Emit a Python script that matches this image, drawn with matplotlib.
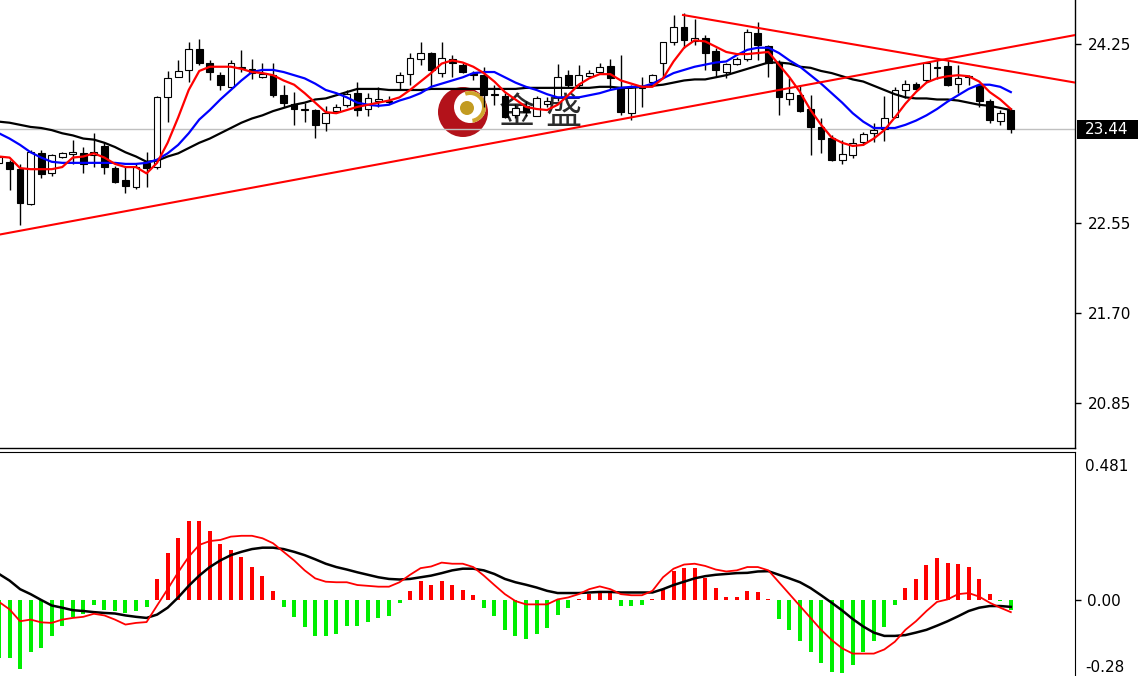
import numpy as np
import matplotlib
matplotlib.use("Agg")
import matplotlib.pyplot as plt
from matplotlib.patches import Rectangle, Circle, Wedge
from matplotlib.transforms import blended_transform_factory

# OHLC, oldest first
opens = [23.12, 23.13, 23.06, 22.73, 23.21, 23.02, 23.18, 23.20, 23.21, 23.19,
         23.28, 23.07, 22.96, 22.89, 23.12, 23.08, 23.74, 23.93, 24.00, 24.20,
         24.07, 23.95, 23.84, 24.02, 24.01, 23.93, 23.95, 23.76, 23.68, 23.62,
         23.62, 23.50, 23.61, 23.67, 23.78, 23.63, 23.71, 23.70, 23.89, 23.96,
         24.10, 24.16, 23.97, 24.10, 24.05, 23.97, 23.95, 23.76, 23.75, 23.57,
         23.66, 23.56, 23.68, 23.74, 23.95, 23.86, 23.94, 23.98, 24.04, 23.84,
         23.59, 23.83, 23.89, 24.07, 24.26, 24.41, 24.27, 24.30, 24.18, 23.98,
         24.06, 24.10, 24.35, 24.23, 24.07, 23.72, 23.76, 23.63, 23.46, 23.36,
         23.15, 23.19, 23.32, 23.40, 23.44, 23.55, 23.81, 23.87, 23.90, 24.02,
         24.04, 23.87, 23.93, 23.86, 23.71, 23.52, 23.62]
highs = [23.19, 23.15, 23.11, 23.24, 23.24, 23.20, 23.22, 23.34, 23.27, 23.40,
         23.32, 23.09, 23.08, 23.11, 23.22, 23.75, 23.99, 24.09, 24.26, 24.29,
         24.09, 23.98, 24.09, 24.19, 24.10, 24.07, 24.07, 23.86, 23.79, 23.69,
         23.63, 23.66, 23.68, 23.81, 23.89, 23.78, 23.84, 23.75, 23.98, 24.16,
         24.26, 24.17, 24.26, 24.14, 24.07, 23.99, 24.03, 23.86, 23.78, 23.68,
         23.71, 23.75, 23.74, 24.06, 24.00, 24.05, 24.00, 24.07, 24.10, 24.14,
         23.86, 23.93, 23.96, 24.26, 24.52, 24.54, 24.48, 24.33, 24.21, 24.07,
         24.12, 24.39, 24.45, 24.24, 24.09, 23.92, 23.86, 23.76, 23.54, 23.38,
         23.34, 23.36, 23.41, 23.50, 23.75, 23.84, 23.90, 23.89, 24.07, 24.09,
         24.09, 24.05, 23.95, 23.87, 23.72, 23.62, 23.64]
lows = [23.10, 22.86, 22.53, 22.72, 22.98, 23.00, 23.17, 23.11, 23.02, 23.08,
        23.01, 22.93, 22.83, 22.87, 22.89, 23.06, 23.51, 23.93, 23.89, 24.05,
        23.90, 23.81, 23.83, 23.98, 23.91, 23.92, 23.74, 23.65, 23.48, 23.51,
        23.36, 23.42, 23.60, 23.65, 23.56, 23.56, 23.65, 23.68, 23.81, 23.86,
        24.05, 23.84, 23.93, 23.93, 23.97, 23.90, 23.65, 23.67, 23.54, 23.54,
        23.56, 23.56, 23.65, 23.71, 23.84, 23.84, 23.92, 23.96, 23.81, 23.57,
        23.53, 23.65, 23.87, 23.92, 24.24, 24.21, 24.24, 24.00, 23.93, 23.92,
        24.05, 24.08, 24.09, 23.93, 23.57, 23.67, 23.60, 23.19, 23.21, 23.14,
        23.11, 23.17, 23.29, 23.32, 23.33, 23.54, 23.73, 23.81, 23.89, 23.91,
        23.85, 23.78, 23.86, 23.65, 23.50, 23.48, 23.40]
closes = [23.18, 23.06, 22.74, 23.22, 23.01, 23.19, 23.21, 23.22, 23.11, 23.22,
          23.08, 22.94, 22.90, 23.08, 23.07, 23.74, 23.92, 23.99, 24.20, 24.07,
          23.98, 23.86, 24.07, 24.03, 23.97, 23.96, 23.76, 23.69, 23.63, 23.63,
          23.48, 23.59, 23.65, 23.77, 23.62, 23.73, 23.72, 23.71, 23.95, 24.11,
          24.16, 24.00, 24.11, 24.07, 23.98, 23.95, 23.76, 23.77, 23.55, 23.64,
          23.60, 23.73, 23.71, 23.93, 23.86, 23.95, 23.97, 24.03, 23.92, 23.60,
          23.84, 23.85, 23.95, 24.26, 24.41, 24.28, 24.30, 24.16, 24.00, 24.06,
          24.10, 24.36, 24.24, 24.07, 23.74, 23.78, 23.61, 23.46, 23.35, 23.15,
          23.20, 23.31, 23.39, 23.43, 23.54, 23.81, 23.87, 23.82, 24.07, 24.03,
          23.86, 23.92, 23.94, 23.71, 23.53, 23.59, 23.44]

# moving averages (red fast, blue medium, black slow)
ma_fast = [23.18, 23.17, 23.07, 23.06, 23.06, 23.06, 23.08, 23.17, 23.18, 23.21,
           23.17, 23.11, 23.08, 23.08, 23.02, 23.12, 23.31, 23.55, 23.81, 23.99,
           24.03, 24.03, 24.03, 24.01, 23.98, 23.97, 23.95, 23.90, 23.86, 23.78,
           23.69, 23.60, 23.59, 23.62, 23.65, 23.67, 23.69, 23.71, 23.74, 23.81,
           23.89, 23.97, 24.06, 24.09, 24.07, 24.03, 23.97, 23.89, 23.79, 23.72,
           23.65, 23.63, 23.62, 23.67, 23.76, 23.86, 23.92, 23.96, 23.96, 23.90,
           23.87, 23.84, 23.84, 23.92, 24.08, 24.21, 24.28, 24.27, 24.22, 24.17,
           24.15, 24.15, 24.16, 24.17, 24.05, 23.93, 23.79, 23.62, 23.48, 23.36,
           23.31, 23.28, 23.29, 23.35, 23.43, 23.55, 23.68, 23.79, 23.88, 23.92,
           23.94, 23.95, 23.94, 23.89, 23.79, 23.72, 23.63]
ma_mid = [23.40, 23.35, 23.29, 23.22, 23.17, 23.13, 23.12, 23.12, 23.12, 23.12,
          23.12, 23.12, 23.11, 23.11, 23.12, 23.15, 23.21, 23.29, 23.40, 23.53,
          23.62, 23.72, 23.81, 23.90, 23.98, 24.00, 24.00, 23.98, 23.95, 23.92,
          23.87, 23.81, 23.78, 23.74, 23.69, 23.67, 23.66, 23.67, 23.71, 23.74,
          23.78, 23.84, 23.87, 23.90, 23.93, 23.97, 23.98, 23.98, 23.93, 23.88,
          23.84, 23.81, 23.77, 23.74, 23.74, 23.74, 23.76, 23.78, 23.81, 23.83,
          23.84, 23.84, 23.87, 23.92, 23.97, 24.00, 24.03, 24.05, 24.07, 24.08,
          24.14, 24.19, 24.21, 24.21, 24.16, 24.09, 24.03, 23.95, 23.87, 23.78,
          23.69, 23.59, 23.51, 23.45, 23.45, 23.45, 23.48, 23.52, 23.57, 23.63,
          23.70, 23.76, 23.82, 23.86, 23.86, 23.84, 23.79]
ma_slow = [23.51, 23.50, 23.48, 23.46, 23.45, 23.43, 23.40, 23.38, 23.35, 23.34,
           23.31, 23.27, 23.22, 23.18, 23.13, 23.14, 23.18, 23.21, 23.26, 23.31,
           23.35, 23.40, 23.45, 23.50, 23.54, 23.57, 23.61, 23.64, 23.67, 23.69,
           23.72, 23.73, 23.76, 23.79, 23.82, 23.82, 23.82, 23.81, 23.81, 23.81,
           23.81, 23.82, 23.82, 23.82, 23.82, 23.82, 23.82, 23.82, 23.82, 23.82,
           23.83, 23.83, 23.83, 23.83, 23.83, 23.83, 23.83, 23.84, 23.84, 23.83,
           23.83, 23.84, 23.85, 23.86, 23.88, 23.90, 23.91, 23.91, 23.93, 23.95,
           23.98, 24.01, 24.04, 24.07, 24.07, 24.06, 24.03, 24.02, 23.99, 23.97,
           23.94, 23.91, 23.89, 23.85, 23.81, 23.77, 23.74, 23.73, 23.73, 23.72,
           23.72, 23.71, 23.69, 23.67, 23.66, 23.64, 23.62]

# hand-drawn trend lines: (bar index, price) end points
trend_up_x = [0.0, 102.1]
trend_up_y = [22.44, 24.33]
trend_down_x = [64.9, 102.1]
trend_down_y = [24.52, 23.88]

# MACD panel
macd_hist = [-0.21, -0.21, -0.25, -0.19, -0.175, -0.13, -0.095, -0.06, -0.05, -0.02,
             -0.035, -0.04, -0.047, -0.04, -0.025, 0.077, 0.17, 0.224, 0.286, 0.286,
             0.25, 0.202, 0.18, 0.155, 0.12, 0.087, 0.031, -0.025, -0.062, -0.097,
             -0.132, -0.132, -0.122, -0.095, -0.095, -0.078, -0.066, -0.057, -0.012, 0.034,
             0.067, 0.055, 0.067, 0.055, 0.037, 0.017, -0.029, -0.057, -0.107, -0.132,
             -0.141, -0.122, -0.103, -0.053, -0.029, 0.005, 0.021, 0.034, 0.034, -0.022,
             -0.022, -0.02, 0.005, 0.04, 0.104, 0.117, 0.117, 0.08, 0.042, 0.012,
             0.01, 0.034, 0.03, 0.005, -0.07, -0.11, -0.147, -0.19, -0.228, -0.26,
             -0.265, -0.235, -0.19, -0.149, -0.097, -0.02, 0.042, 0.077, 0.125, 0.15,
             0.133, 0.13, 0.12, 0.077, 0.021, -0.005, -0.035]
macd_line = [-0.007, -0.034, -0.077, -0.071, -0.081, -0.083, -0.071, -0.065, -0.061, -0.05,
             -0.056, -0.071, -0.089, -0.083, -0.08, -0.02, 0.039, 0.10, 0.156, 0.199,
             0.213, 0.217, 0.229, 0.232, 0.232, 0.223, 0.205, 0.174, 0.143, 0.107,
             0.078, 0.066, 0.064, 0.064, 0.054, 0.051, 0.048, 0.048, 0.064, 0.091,
             0.115, 0.121, 0.135, 0.131, 0.131, 0.119, 0.088, 0.054, 0.021, -0.004,
             -0.016, -0.016, -0.016, 0.002, 0.009, 0.021, 0.039, 0.049, 0.039, 0.021,
             0.017, 0.017, 0.033, 0.082, 0.113, 0.128, 0.131, 0.123, 0.11, 0.103,
             0.107, 0.119, 0.119, 0.107, 0.064, 0.021, -0.022, -0.065, -0.108, -0.145,
             -0.175, -0.194, -0.194, -0.194, -0.179, -0.151, -0.108, -0.077, -0.04, -0.007,
             0.002, 0.021, 0.025, 0.012, -0.01, -0.028, -0.044]
macd_signal = [0.094, 0.07, 0.039, 0.021, 0.0, -0.02, -0.028, -0.037, -0.04, -0.044,
               -0.047, -0.049, -0.056, -0.061, -0.065, -0.053, -0.028, 0.009, 0.051, 0.088,
               0.119, 0.143, 0.162, 0.174, 0.184, 0.189, 0.189, 0.184, 0.174, 0.162,
               0.147, 0.131, 0.119, 0.11, 0.1, 0.091, 0.082, 0.076, 0.074, 0.076,
               0.082, 0.088, 0.097, 0.107, 0.113, 0.113, 0.107, 0.094, 0.076, 0.064,
               0.055, 0.045, 0.033, 0.025, 0.025, 0.025, 0.027, 0.029, 0.029, 0.027,
               0.027, 0.027, 0.027, 0.039, 0.054, 0.066, 0.078, 0.086, 0.091, 0.094,
               0.097, 0.098, 0.103, 0.104, 0.091, 0.078, 0.064, 0.043, 0.017, -0.01,
               -0.038, -0.069, -0.096, -0.118, -0.13, -0.13, -0.127, -0.118, -0.108, -0.093,
               -0.077, -0.059, -0.04, -0.028, -0.022, -0.022, -0.025]

price_ticks = [24.25, 22.55, 21.70, 20.85]
last_price = 23.44
macd_top_label = 0.481
macd_bottom_label = "-0.28"

n = len(closes)
x = np.arange(n)

W, H = 1141, 676
fig = plt.figure(figsize=(W / 100, H / 100), dpi=100)
ax = fig.add_axes([0, 228 / H, 1075 / W, 448 / H])
ax2 = fig.add_axes([0, 0, 1075 / W, 224 / H])

# watermark logo, behind everything
def inch(px, py):
    return (px / 100, (H - py) / 100)

ax.add_patch(Circle(inch(463, 112), 0.25, transform=fig.dpi_scale_trans,
                    fc="#b3121a", ec="none", zorder=0.5))
ax.add_patch(Circle(inch(470, 107), 0.16, transform=fig.dpi_scale_trans,
                    fc="white", ec="none", zorder=0.6))
ax.add_patch(Wedge(inch(470, 107), 0.16, -80, 110, width=0.04,
                   transform=fig.dpi_scale_trans, fc="#cfa52c", ec="none", zorder=0.7))
ax.add_patch(Circle(inch(467, 108), 0.07, transform=fig.dpi_scale_trans,
                    fc="#c29b22", ec="none", zorder=0.8))
for ch, px in [("金", 517), ("盛", 563)]:
    ax.text(*inch(px, 113), ch, transform=fig.dpi_scale_trans, fontsize=26,
            family=["Noto Sans CJK SC", "DejaVu Sans"], color="#2b2b2b",
            ha="center", va="center", zorder=0.9)

# bid line
ax.axhline(last_price, color="#c0c0c0", lw=1, zorder=1)

# candles
w = 0.64
for i in range(n):
    o, h, l, c = opens[i], highs[i], lows[i], closes[i]
    ax.vlines(i, l, h, color="black", lw=1.0, zorder=2)
    body = max(abs(c - o), 0.008)
    ax.add_patch(Rectangle((i - w / 2, min(o, c)), w, body,
                           fc="white" if c >= o else "black",
                           ec="black", lw=0.8, zorder=3))

ax.plot(x, ma_slow, color="black", lw=1.6, zorder=4)
ax.plot(x, ma_mid, color="#0000ff", lw=1.6, zorder=4)
ax.plot(x, ma_fast, color="#ff0000", lw=1.6, zorder=5)
ax.plot(trend_up_x, trend_up_y, color="#ff0000", lw=1.5, zorder=5)
ax.plot(trend_down_x, trend_down_y, color="#ff0000", lw=1.5, zorder=5)

ax.set_xlim(0.095, 102.09)
ax.set_ylim(20.42, 24.662)
ax.set_xticks([])
ax.yaxis.tick_right()
ax.set_yticks(price_ticks)
ax.set_yticklabels([f"{t:.2f}" for t in price_ticks])
ax.tick_params(axis="y", direction="out", length=4, width=1, labelsize=11, pad=5)
for s in ["top", "left"]:
    ax.spines[s].set_visible(False)
for s in ["bottom", "right"]:
    ax.spines[s].set_linewidth(1.0)

# current price tag
fig.add_artist(Rectangle((1077 / W, (H - 139) / H), 61 / W, 19 / H,
                         transform=fig.transFigure, fc="black", ec="none"))
fig.text(1107 / W, (H - 129.5) / H, f"{last_price:.2f}", color="white",
         fontsize=11, ha="center", va="center")

# MACD
bar_colors = ["#ff0000" if v > 0 else "#00ee00" for v in macd_hist]
ax2.bar(x, macd_hist, width=0.38, color=bar_colors, zorder=2)
ax2.plot(x, macd_signal, color="black", lw=1.8, zorder=3)
ax2.plot(x, macd_line, color="#ff0000", lw=1.3, zorder=4)

ax2.set_xlim(0.095, 102.09)
ax2.set_ylim(-0.275, 0.535)
ax2.set_xticks([])
ax2.yaxis.tick_right()
ax2.set_yticks([0.0])
ax2.set_yticklabels(["0.00"])
ax2.tick_params(axis="y", direction="out", length=4, width=1, labelsize=11, pad=5)
for s in ["bottom", "left"]:
    ax2.spines[s].set_visible(False)

tr = blended_transform_factory(ax2.transAxes, ax2.transData)
ax2.text(1.0093, macd_top_label, f"{macd_top_label:.3f}", transform=tr,
         fontsize=11, ha="left", va="center")
ax2.text(1.0093, 8 / 224, macd_bottom_label, transform=ax2.transAxes,
         fontsize=11, ha="left", va="center")

fig.savefig("out.png", dpi=100)
